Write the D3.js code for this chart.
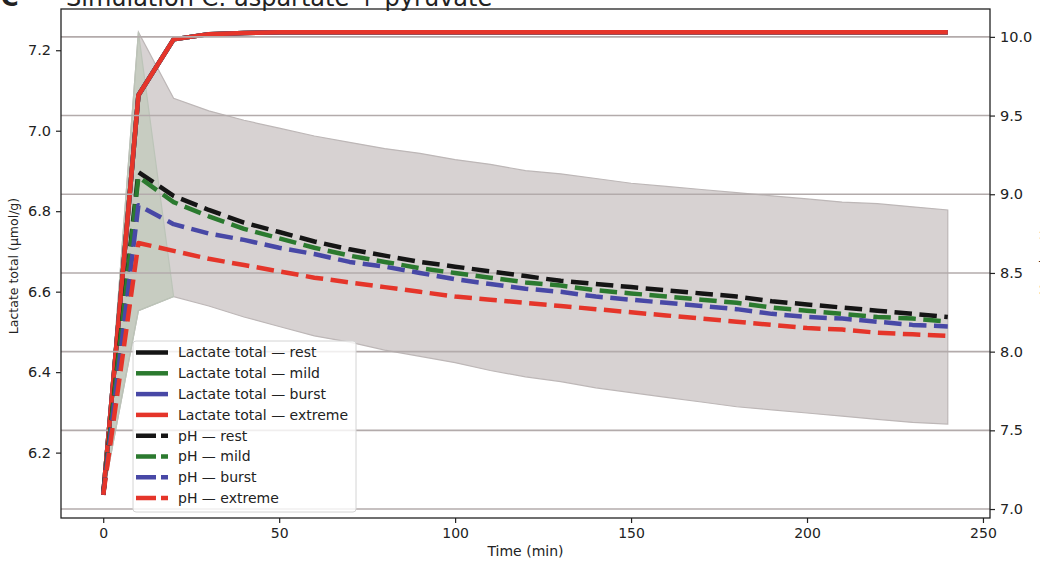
<!DOCTYPE html>
<html>
<head>
<meta charset="utf-8">
<script src="https://cdn.jsdelivr.net/npm/d3@7"></script>
<style>
  body { margin: 0; background: #fff; }
  text { font-family: "DejaVu Sans", sans-serif; fill: #222; }
</style>
</head>
<body>
<script>
// time points (min)
var time = [0,10,20,30,40,50,60,70,80,90,100,110,120,130,140,150,160,170,180,190,200,210,220,230,240];
var scenarios = ["rest", "mild", "burst", "extreme"];

// lactate total (umol/g), left axis
var lacRest    = [6.095,7.088,7.227,7.240,7.243,7.245,7.245,7.245,7.245,7.245,7.245,7.245,7.245,7.245,7.245,7.245,7.245,7.245,7.245,7.245,7.245,7.245,7.245,7.245,7.245];
var lacMild    = [6.095,7.088,7.227,7.240,7.243,7.245,7.245,7.245,7.245,7.245,7.245,7.245,7.245,7.245,7.245,7.245,7.245,7.245,7.245,7.245,7.245,7.245,7.245,7.245,7.245];
var lacBurst   = [6.095,7.088,7.227,7.240,7.243,7.245,7.245,7.245,7.245,7.245,7.245,7.245,7.245,7.245,7.245,7.245,7.245,7.245,7.245,7.245,7.245,7.245,7.245,7.245,7.245];
var lacExtreme = [6.095,7.088,7.227,7.240,7.243,7.245,7.245,7.245,7.245,7.245,7.245,7.245,7.245,7.245,7.245,7.245,7.245,7.245,7.245,7.245,7.245,7.245,7.245,7.245,7.245];

// pH, right axis
var phRest    = [7.09,9.14,8.99,8.90,8.82,8.76,8.70,8.65,8.61,8.57,8.54,8.51,8.48,8.45,8.43,8.41,8.39,8.37,8.35,8.32,8.30,8.28,8.26,8.24,8.22];
var phMild    = [7.09,9.11,8.95,8.86,8.78,8.72,8.66,8.61,8.57,8.53,8.50,8.47,8.44,8.42,8.39,8.37,8.35,8.33,8.31,8.28,8.26,8.24,8.22,8.21,8.19];
var phBurst   = [7.09,8.93,8.81,8.75,8.71,8.66,8.62,8.57,8.54,8.50,8.46,8.43,8.40,8.38,8.35,8.33,8.31,8.29,8.27,8.24,8.22,8.21,8.19,8.17,8.16];
var phExtreme = [7.09,8.69,8.64,8.59,8.55,8.51,8.47,8.44,8.41,8.38,8.35,8.33,8.31,8.29,8.27,8.25,8.23,8.21,8.19,8.17,8.15,8.14,8.12,8.11,8.10];

// pH envelope
var bandUpper = [7.09,10.03,9.61,9.53,9.47,9.42,9.37,9.33,9.29,9.26,9.22,9.19,9.15,9.13,9.10,9.07,9.05,9.03,9.01,8.99,8.97,8.95,8.94,8.92,8.90];
var bandLower = [7.09,8.26,8.35,8.29,8.22,8.16,8.10,8.06,8.01,7.97,7.93,7.88,7.84,7.81,7.77,7.74,7.71,7.68,7.65,7.63,7.61,7.59,7.57,7.55,7.54];
var earlyTime  = [0,10,20];
var earlyUpper = [7.09,10.03,8.35];
var earlyLower = [7.09,8.26,8.35];

var colors = {rest: "#151515", mild: "#2b7a2f", burst: "#4848a6", extreme: "#e5352a"};
var lactate = {rest: lacRest, mild: lacMild, burst: lacBurst, extreme: lacExtreme};
var ph = {rest: phRest, mild: phMild, burst: phBurst, extreme: phExtreme};

var W = 1040, H = 563;
var plot = {left: 61, right: 990, top: 9, bottom: 518};

function pad(ext){
  var r = ext[1] - ext[0];
  return [ext[0] - r*0.05, ext[1] + r*0.05];
}

var svg = d3.select("body").append("svg")
  .attr("width", W)
  .attr("height", H);

var x = d3.scaleLinear()
  .domain(pad(d3.extent(time)))
  .range([plot.left, plot.right]);

var allLac = [].concat(lacRest, lacMild, lacBurst, lacExtreme);
var yL = d3.scaleLinear()
  .domain(pad(d3.extent(allLac)))
  .range([plot.bottom, plot.top]);

var allPh = [].concat(phRest, phMild, phBurst, phExtreme, bandUpper, bandLower);
var yR = d3.scaleLinear()
  .domain(pad(d3.extent(allPh)))
  .range([plot.bottom, plot.top]);

svg.append("clipPath").attr("id", "clip")
  .append("rect")
  .attr("x", plot.left).attr("y", plot.top)
  .attr("width", plot.right - plot.left)
  .attr("height", plot.bottom - plot.top);

var inner = svg.append("g").attr("clip-path", "url(#clip)");

// pH band
var area = d3.area()
  .x(function(d, i){ return x(time[i]); })
  .y0(function(d, i){ return yR(bandLower[i]); })
  .y1(function(d){ return yR(d); });
inner.append("path")
  .datum(bandUpper)
  .attr("d", area)
  .attr("fill", "#d7d2d2")
  .attr("stroke", "#bdb7b7")
  .attr("stroke-width", 1.2);

var earlyArea = d3.area()
  .x(function(d, i){ return x(earlyTime[i]); })
  .y0(function(d, i){ return yR(earlyLower[i]); })
  .y1(function(d){ return yR(d); });
inner.append("path")
  .datum(earlyUpper)
  .attr("d", earlyArea)
  .attr("fill", "#aac2a2")
  .attr("fill-opacity", 0.35)
  .attr("stroke", "#bcc4b8")
  .attr("stroke-width", 1.2);

// solid lactate lines
scenarios.forEach(function(s){
  var line = d3.line()
    .x(function(d, i){ return x(time[i]); })
    .y(function(d){ return yL(d); });
  inner.append("path")
    .datum(lactate[s])
    .attr("d", line)
    .attr("fill", "none")
    .attr("stroke", colors[s])
    .attr("stroke-width", 4.5)
    .attr("stroke-linejoin", "round");
});

// grid on right axis ticks
var rTicks = yR.ticks(7);
inner.selectAll(".grid")
  .data(rTicks)
  .enter().append("line")
  .attr("class", "grid")
  .attr("x1", plot.left).attr("x2", plot.right)
  .attr("y1", function(d){ return yR(d); })
  .attr("y2", function(d){ return yR(d); })
  .attr("stroke", "#b3abab")
  .attr("stroke-width", 1.6);

// dashed pH lines
scenarios.forEach(function(s){
  var line = d3.line()
    .x(function(d, i){ return x(time[i]); })
    .y(function(d){ return yR(d); });
  inner.append("path")
    .datum(ph[s])
    .attr("d", line)
    .attr("fill", "none")
    .attr("stroke", colors[s])
    .attr("stroke-width", 4.5)
    .attr("stroke-dasharray", "17.5,7.5")
    .attr("stroke-linejoin", "round");
});

// axes
var xAxis = svg.append("g")
  .attr("transform", "translate(0," + plot.bottom + ")")
  .call(d3.axisBottom(x).tickValues([0,50,100,150,200,250]).tickSize(5).tickPadding(5));
xAxis.selectAll("text").style("font-size", "14px");

var lAxis = svg.append("g")
  .attr("transform", "translate(" + plot.left + ",0)")
  .call(d3.axisLeft(yL).ticks(6).tickFormat(d3.format(".1f")).tickSize(5).tickPadding(5));
lAxis.selectAll("text").style("font-size", "14.5px");

var rAxis = svg.append("g")
  .attr("transform", "translate(" + plot.right + ",0)")
  .call(d3.axisRight(yR).ticks(7).tickFormat(d3.format(".1f")).tickSize(5).tickPadding(5));
rAxis.selectAll("text").style("font-size", "14.5px");

[xAxis, lAxis, rAxis].forEach(function(a){
  a.select(".domain").remove();
  a.selectAll("line").attr("stroke", "#222").attr("stroke-width", 1.2);
  a.selectAll("text").attr("fill", "#222").style("font-family", "DejaVu Sans");
});

svg.append("rect")
  .attr("x", plot.left).attr("y", plot.top)
  .attr("width", plot.right - plot.left)
  .attr("height", plot.bottom - plot.top)
  .attr("fill", "none")
  .attr("stroke", "#222")
  .attr("stroke-width", 1.3);

// labels
svg.append("text")
  .attr("x", (plot.left + plot.right)/2)
  .attr("y", 556)
  .attr("text-anchor", "middle")
  .style("font-size", "14px")
  .text("Time (min)");

svg.append("text")
  .attr("transform", "translate(18,266) rotate(-90)")
  .attr("text-anchor", "middle")
  .style("font-size", "12.5px")
  .text("Lactate total (µmol/g)");

svg.append("text")
  .attr("transform", "translate(1049,263) rotate(-90)")
  .attr("text-anchor", "middle")
  .style("font-size", "12.5px")
  .text("Muscle pH");

svg.append("text")
  .attr("x", 66)
  .attr("y", 6)
  .style("font-size", "24px")
  .text("Simulation C: aspartate + pyruvate");

svg.append("text")
  .attr("x", 1)
  .attr("y", 6)
  .style("font-size", "24px")
  .style("font-weight", "bold")
  .text("C");

// legend
var items = [];
scenarios.forEach(function(s){ items.push({label: "Lactate total \u2014 " + s, color: colors[s], dash: null}); });
scenarios.forEach(function(s){ items.push({label: "pH \u2014 " + s, color: colors[s], dash: "20,5"}); });

var legend = svg.append("g").attr("transform", "translate(133,341)");
legend.append("rect")
  .attr("width", 223)
  .attr("height", 171)
  .attr("rx", 3)
  .attr("fill", "#fff")
  .attr("fill-opacity", 0.8)
  .attr("stroke", "#d4d4d4");

var row = legend.selectAll(".item")
  .data(items)
  .enter().append("g")
  .attr("transform", function(d, i){ return "translate(0," + (11.5 + i*20.8) + ")"; });

row.append("line")
  .attr("x1", 3).attr("x2", 35)
  .attr("stroke", function(d){ return d.color; })
  .attr("stroke-width", 4.5)
  .attr("stroke-dasharray", function(d){ return d.dash; });

row.append("text")
  .attr("x", 45)
  .attr("dy", "0.35em")
  .style("font-size", "14px")
  .text(function(d){ return d.label; });
</script>
</body>
</html>
